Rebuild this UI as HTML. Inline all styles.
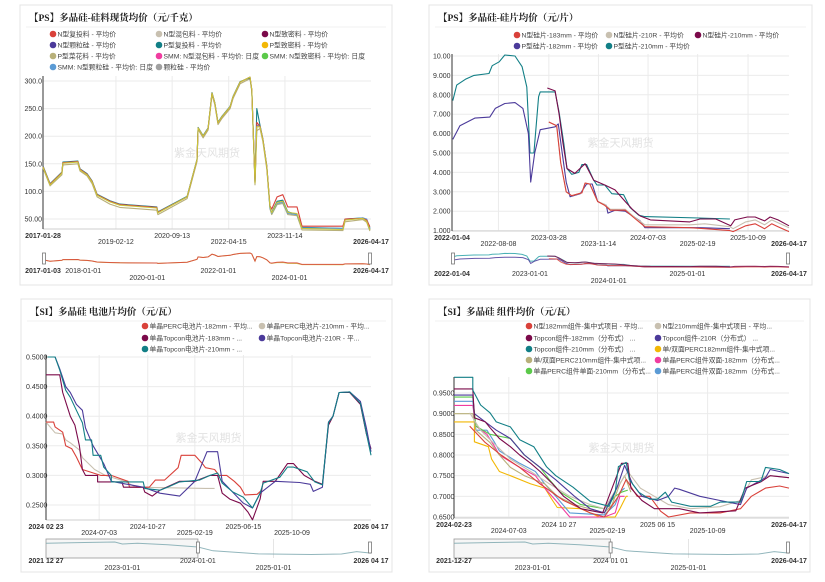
<!DOCTYPE html>
<html><head><meta charset="utf-8">
<style>
html,body{margin:0;padding:0;background:#fff;}
svg{display:block;font-family:"Liberation Sans","Noto Sans CJK SC",sans-serif;}
.t{font-family:"Liberation Serif","Noto Serif CJK SC",serif;font-weight:bold;font-size:9.5px;fill:#222;}
.tk{font-size:7px;fill:#333;}
.lg{font-size:6.8px;fill:#444;}
.wm{font-size:11px;fill:#e2e2e2;}
</style></head>
<body>
<svg id="root" width="825" height="582" viewBox="0 0 825 582" xmlns="http://www.w3.org/2000/svg"></svg>
<script>
// ---------- Panel 1: polysilicon raw material price (yuan/kg) ----------
const p1Dates=[2017.07,2017.27,2017.60,2017.63,2018.05,2018.11,2018.31,2018.45,2018.59,2018.95,2019.23,2020.27,2020.30,2021.12,2021.40,2021.43,2021.57,2021.71,2021.82,2021.90,2021.99,2022.10,2022.33,2022.41,2022.61,2022.89,2022.94,2023.03,2023.08,2023.17,2023.25,2023.36,2023.45,2023.50,2023.65,2023.81,2023.95,2024.21,2024.35,2025.50,2025.56,2026.06,2026.17,2026.26];
const p1Olive=[142,110,130,148,150,137,128,114,90,77,71,66,58,87,154,212,197,211,275,257,221,232,250,268,295,304,281,112,210,214,190,140,68,58,76,78,58,56,30,29,45,49,44,28];
const p1Teal=[146,114,135,153,155,141,132,119,95,83,77,72,63,91,158,216,201,215,279,261,225,236,254,272,299,306,283,118,250,220,195,146,70,62,82,84,63,58,35,33,50,52,48,33];
const p1Red=[145,113,134,152,154,140,131,118,94,82,76,71,62,90,157,215,200,214,278,260,224,235,253,271,298,307,284,116,225,218,194,145,74,68,90,94,72,72,37,37,50,51,48,36];
const p1Blue=[145,113,134,152,154,140,131,118,94,82,76,71,62,90,157,215,200,214,278,260,224,235,253,271,298,307,284,116,220,218,194,145,70,60,78,80,60,58,34,33,49,52,50,34];
const p1Yellow=[144,112,133,151,153,139,130,117,93,81,75,70,61,90,157,215,200,214,278,260,224,235,253,271,298,307,284,115,217,217,193,144,72,61,80,82,62,60,33,31,48,51,46,30];
const p1YTicks=[300,250,200,150,100,50];
const p1YLabels=["300.0","250.0","200.0","150.0","100.0","50.00"];
const p1XTicks=[2017.07,2019.12,2020.70,2022.29,2023.87,2026.29];
const p1XLabels=["2017-01-28","2019-02-12","2020-09-13","2022-04-15","2023-11-14","2026-04-17"];

// ---------- Panel 2: wafer price (yuan/pc) ----------
const p2TealDates=[2022.02,2022.07,2022.18,2022.29,2022.48,2022.52,2022.61,2022.68,2022.81,2022.90,2022.96,2023.00,2023.05,2023.11,2023.13,2023.32,2023.37,2023.43,2023.47,2023.53,2023.62,2023.66,2023.72,2023.81,2023.85,2023.95,2024.04,2024.19,2024.27,2024.38,2024.46,2025.15,2025.54];
const p2Teal=[7.7,8.5,8.8,9.0,9.1,9.5,9.7,10.05,10.0,9.45,8.4,5.0,5.0,7.9,8.15,8.15,7.1,5.5,4.2,3.9,4.0,4.4,4.4,3.6,3.35,3.35,2.9,2.85,2.2,1.8,1.72,1.65,1.6];
const p2PurpleDates=[2022.02,2022.11,2022.30,2022.49,2022.56,2022.68,2022.81,2022.91,2022.98,2023.01,2023.06,2023.13,2023.32,2023.36,2023.41,2023.46,2023.51,2023.64,2023.72,2023.79,2023.86,2023.97,2023.99,2024.08,2024.21,2024.40,2024.46,2025.16,2025.54];
const p2Purple=[5.7,6.4,6.8,6.85,7.3,7.55,7.6,7.3,6.0,3.5,5.0,6.2,6.35,6.5,5.0,3.5,2.75,2.9,3.4,3.4,2.5,2.3,1.9,2.05,2.0,1.5,1.15,1.15,1.1];
const p2MagDates=[2023.22,2023.32,2023.37,2023.42,2023.47,2023.57,2023.70,2023.81,2023.95,2024.08,2024.21,2024.30,2024.40,2024.53,2025.03,2025.16,2025.36,2025.55,2025.60,2025.76,2025.86,2025.98,2026.05,2026.15,2026.29];
const p2Mag=[8.35,8.2,7.0,5.5,4.2,3.95,4.45,3.6,3.35,3.1,2.5,2.1,1.75,1.55,1.45,1.6,1.6,1.25,1.55,1.7,1.7,1.5,1.7,1.55,1.25];
const p2RedDates=[2023.24,2023.34,2023.39,2023.46,2023.53,2023.66,2023.70,2023.76,2023.86,2023.95,2024.02,2024.21,2024.34,2024.46,2025.03,2025.22,2025.54,2025.58,2025.74,2025.86,2025.98,2026.07,2026.15,2026.29];
const p2Red=[6.6,6.4,4.5,3.0,2.8,2.95,3.45,3.4,2.5,2.3,2.05,2.05,1.6,1.2,1.15,1.1,1.0,0.95,1.25,1.35,1.1,1.35,1.2,0.95];
const p2Gray=[6.6,6.4,4.5,3.0,2.8,2.95,3.45,3.4,2.5,2.35,2.1,2.1,1.65,1.3,1.3,1.35,1.2,1.1,1.45,1.55,1.3,1.55,1.4,1.15];
const p2YTicks=[10,9,8,7,6,5,4,3,2,1];
const p2YLabels=["10.00","9.000","8.000","7.000","6.000","5.000","4.000","3.000","2.000","1.000"];
const p2XTicks=[2022.01,2022.60,2023.24,2023.87,2024.50,2025.13,2025.77,2026.29];
const p2XLabels=["2022-01-04","2022-08-08","2023-03-28","2023-11-14","2024-07-03","2025-02-19","2025-10-09","2026-04-17"];

// ---------- Panel 3: cell price (yuan/W) ----------
const p3TealDates=[2024.16,2024.21,2024.24,2024.28,2024.31,2024.35,2024.39,2024.41,2024.45,2024.46,2024.51,2024.53,2024.58,2024.58,2024.79,2024.80,2024.90,2024.95,2025.03,2025.16,2025.23,2025.28,2025.31,2025.38,2025.45,2025.51,2025.56,2025.58,2025.69,2025.74,2025.78,2025.87,2025.92,2025.97,2026.01,2026.04,2026.08,2026.15,2026.22,2026.26,2026.29];
const p3Teal=[0.5,0.5,0.478,0.444,0.432,0.41,0.389,0.36,0.36,0.334,0.334,0.314,0.30,0.289,0.289,0.278,0.275,0.28,0.289,0.292,0.30,0.304,0.287,0.272,0.263,0.245,0.27,0.287,0.297,0.314,0.314,0.306,0.289,0.284,0.389,0.40,0.44,0.441,0.422,0.371,0.334];
const p3PurpleDates=[2024.16,2024.21,2024.24,2024.28,2024.31,2024.35,2024.39,2024.41,2024.46,2024.53,2024.58,2024.79,2024.90,2025.03,2025.13,2025.21,2025.28,2025.31,2025.45,2025.51,2025.56,2025.66,2025.82,2025.89,2025.91,2025.97,2026.01,2026.04,2026.08,2026.15,2026.22,2026.26,2026.29];
const p3Purple=[0.5,0.5,0.48,0.45,0.44,0.42,0.41,0.38,0.35,0.32,0.29,0.28,0.27,0.265,0.29,0.34,0.34,0.29,0.253,0.245,0.27,0.29,0.288,0.285,0.273,0.28,0.39,0.40,0.44,0.441,0.425,0.38,0.34];
const p3MagDates=[2024.15,2024.24,2024.26,2024.31,2024.34,2024.37,2024.39,2024.41,2024.49,2024.49,2024.65,2024.66,2024.79,2024.80,2024.85,2024.90,2025.03,2025.13,2025.23,2025.28,2025.31,2025.36,2025.43,2025.48,2025.51,2025.56,2025.58,2025.66,2025.74,2025.78,2025.85,2025.92,2025.97,2026.01,2026.04,2026.08,2026.15,2026.22,2026.26,2026.29];
const p3Mag=[0.47,0.47,0.44,0.40,0.385,0.35,0.31,0.30,0.30,0.289,0.289,0.28,0.28,0.272,0.265,0.275,0.29,0.29,0.30,0.30,0.27,0.26,0.253,0.238,0.225,0.26,0.29,0.29,0.32,0.32,0.30,0.29,0.285,0.385,0.40,0.44,0.44,0.42,0.37,0.345];
const p3RedDates=[2024.15,2024.20,2024.21,2024.26,2024.28,2024.32,2024.35,2024.39,2024.51,2024.58,2024.69,2024.70,2024.83,2024.87,2024.93,2025.02,2025.04,2025.13,2025.18,2025.20,2025.26,2025.29,2025.34,2025.39,2025.43,2025.46,2025.54,2025.57];
const p3Red=[0.39,0.39,0.382,0.373,0.35,0.345,0.331,0.31,0.30,0.30,0.29,0.28,0.28,0.292,0.292,0.313,0.334,0.334,0.32,0.313,0.31,0.30,0.30,0.29,0.28,0.267,0.268,0.275];
const p3GrayDates=[2024.15,2024.21,2024.26,2024.28,2024.31,2024.37,2024.39,2024.47,2024.54,2024.67,2024.74,2025.20,2025.26];
const p3Gray=[0.39,0.372,0.37,0.36,0.355,0.343,0.33,0.31,0.30,0.29,0.28,0.278,0.278];
const p3YTicks=[0.5,0.45,0.4,0.35,0.3,0.25];
const p3YLabels=["0.5000","0.4500","0.4000","0.3500","0.3000","0.2500"];
const p3XTicks=[2024.15,2024.50,2024.82,2025.13,2025.45,2025.77,2026.29];
const p3XLabels=["2024 02 23","2024-07-03","2024-10-27","2025-02-19","2025-06-15","2025-10-09","2026 04 17"];
const p3NavDates=[2021.99,2022.5,2022.9,2023.0,2023.2,2023.6,2024.0,2024.2,2024.8,2025.5,2025.9,2026.1,2026.29];
const p3NavVals=[1.0,1.05,1.08,0.95,1.0,0.9,0.75,0.5,0.29,0.25,0.28,0.44,0.34];

// ---------- Panel 4: module price (yuan/W) ----------
const p4TealDates=[2024.15,2024.27,2024.27,2024.32,2024.38,2024.42,2024.51,2024.57,2024.66,2024.74,2024.80,2024.91,2025.02,2025.14,2025.18,2025.20,2025.25,2025.27,2025.33,2025.40,2025.45,2025.50,2025.54,2025.66,2025.79,2025.85,2025.98,2026.02,2026.11,2026.14,2026.23,2026.29];
const p4Teal=[0.988,0.988,0.957,0.921,0.902,0.88,0.868,0.837,0.82,0.772,0.75,0.722,0.688,0.676,0.71,0.772,0.782,0.741,0.71,0.693,0.693,0.71,0.686,0.676,0.676,0.686,0.686,0.736,0.736,0.77,0.765,0.755];
const p4MagDates=[2024.15,2024.27,2024.28,2024.35,2024.38,2024.44,2024.51,2024.57,2024.64,2024.70,2024.78,2024.85,2024.96,2025.10,2025.16,2025.22,2025.26,2025.28,2025.35,2025.43,2025.59,2025.72,2025.95,2026.01,2026.11,2026.17,2026.29];
const p4Mag=[0.96,0.96,0.89,0.88,0.866,0.84,0.82,0.80,0.78,0.76,0.73,0.70,0.67,0.66,0.72,0.78,0.78,0.72,0.69,0.67,0.67,0.66,0.665,0.72,0.735,0.75,0.745];
const p4PurpleDates=[2024.15,2024.27,2024.28,2024.35,2024.42,2024.51,2024.60,2024.70,2024.80,2024.92,2025.02,2025.11,2025.19,2025.24,2025.29,2025.35,2025.45,2025.52,2025.56,2025.59,2025.72,2025.85,2025.98,2026.02,2026.14,2026.17,2026.29];
const p4Purple=[0.945,0.945,0.90,0.88,0.86,0.84,0.80,0.77,0.74,0.70,0.67,0.66,0.72,0.775,0.73,0.70,0.69,0.70,0.72,0.717,0.70,0.69,0.68,0.72,0.745,0.765,0.755];
const p4RedDates=[2024.25,2024.35,2024.45,2024.57,2024.70,2024.85,2025.02,2025.11,2025.20,2025.25,2025.32,2025.40,2025.47,2025.52,2025.66,2025.85,2025.98,2026.05,2026.14,2026.23,2026.29];
const p4Red=[0.87,0.83,0.80,0.77,0.73,0.69,0.66,0.65,0.70,0.741,0.70,0.70,0.664,0.65,0.66,0.66,0.67,0.70,0.72,0.725,0.72];
const p4GrayDates=[2024.25,2024.32,2024.40,2024.51,2024.64,2024.76,2024.89,2025.02,2025.11,2025.19,2025.26,2025.34,2025.43,2025.52,2025.66,2025.85,2025.98,2026.05,2026.17,2026.29];
const p4Gray=[0.902,0.86,0.83,0.79,0.76,0.73,0.70,0.68,0.67,0.72,0.76,0.72,0.70,0.68,0.67,0.675,0.69,0.74,0.75,0.745];
const p4YellowDates=[2024.15,2024.28,2024.28,2024.37,2024.39,2024.44,2024.51,2024.64,2024.73,2024.78,2024.81,2024.96,2025.08,2025.18,2025.21,2025.25,2025.26];
const p4Yellow=[0.88,0.88,0.832,0.82,0.79,0.76,0.75,0.73,0.72,0.69,0.673,0.67,0.65,0.65,0.67,0.70,0.70];
const p4PinkDates=[2024.15,2024.27,2024.29,2024.36,2024.41,2024.44,2024.57,2024.67,2024.73,2024.80,2024.89,2025.11,2025.18,2025.21,2025.24];
const p4Pink=[0.92,0.92,0.87,0.85,0.82,0.80,0.77,0.75,0.72,0.69,0.65,0.65,0.66,0.70,0.70];
const p4LBlue=[0.93,0.93,0.86,0.86,0.83,0.81,0.78,0.76,0.73,0.70,0.66,0.655,0.68,0.71,0.72];
const p4GreenDates=[2024.15,2024.27,2024.29,2024.38,2024.51,2024.60,2024.70,2024.76,2024.83,2024.96,2025.11,2025.18,2025.22,2025.26];
const p4Green=[0.94,0.94,0.87,0.85,0.84,0.80,0.77,0.74,0.71,0.68,0.67,0.70,0.71,0.715];
const p4OliveDates=[2024.15,2024.27,2024.29,2024.38,2024.44,2024.51,2024.60,2024.73,2024.81,2024.92,2025.11,2025.16,2025.21,2025.24,2025.28];
const p4Olive=[0.90,0.90,0.86,0.83,0.80,0.77,0.75,0.73,0.70,0.68,0.66,0.68,0.73,0.75,0.71];
const p4YTicks=[0.95,0.9,0.85,0.8,0.75,0.7,0.65];
const p4YLabels=["0.9500","0.9000","0.8500","0.8000","0.7500","0.7000","0.6500"];
const p4XTicks=[2024.15,2024.50,2024.82,2025.13,2025.45,2025.77,2026.29];
const p4XLabels=["2024-02-23","2024-07-03","2024 10 27","2025-02-19","2025 06 15","2025-10-09","2026-04-17"];

const NS="http://www.w3.org/2000/svg";
const root=document.getElementById('root');
function el(tag,attrs,parent,text){const e=document.createElementNS(NS,tag);for(const k in attrs)e.setAttribute(k,attrs[k]);if(text!==undefined)e.textContent=text;(parent||root).appendChild(e);return e;}
function mkX(t0,t1,x0,x1){return t=>x0+(t-t0)/(t1-t0)*(x1-x0);}
function mkY(v0,v1,y0,y1){return v=>y0+(v-v0)/(v1-v0)*(y1-y0);}
function pathD(ds,vs,X,Y){let d='';for(let i=0;i<ds.length;i++){d+=(i?'L':'M')+X(ds[i]).toFixed(1)+','+Y(vs[i]).toFixed(1);}return d;}

function panel(cfg){
  const g=el('g',{});
  
  
  const fr=el('rect',{x:cfg.box[0],y:cfg.box[1],width:cfg.box[2],height:cfg.box[3],fill:'#fff',stroke:'#e4e4e4','stroke-width':1},g);
  
  
  const sep=el('line',{x1:cfg.box[0]+6,x2:cfg.box[0]+cfg.box[2]-6,y1:cfg.box[1]+22,y2:cfg.box[1]+22,stroke:'#f0f0f0'},g);
  
  
  const tt=el('text',{x:cfg.box[0]+9,y:cfg.box[1]+16,class:'t'},g,cfg.title);
  
  
  // legend
  cfg.legend.forEach(l=>{
    const lg=el('g',{},g);
    
    
    el('circle',{cx:l[0],cy:l[1],r:3.3,fill:l[2]},lg);
    el('text',{x:l[0]+4.5,y:l[1]+2.5,class:'lg'},lg,l[3]);
  });
  const X=mkX(cfg.t0,cfg.t1,cfg.px0,cfg.px1);
  const Y=mkY(cfg.v0,cfg.v1,cfg.py0,cfg.py1);
  // horizontal grid + y labels
  cfg.yTicks.forEach((v,i)=>{
    const ln=el('line',{x1:cfg.px0,x2:cfg.px1,y1:Y(v),y2:Y(v),stroke:'#ebebeb'},g);
    
    
    const tx=el('text',{x:cfg.ylx,y:Y(v)+2.5,class:'tk','text-anchor':cfg.yAnchor},g,cfg.yLabels[i]);
    
    
  });
  cfg.xTicks.forEach((t,i)=>{
    if(i>0&&i<cfg.xTicks.length-1){
      const ln=el('line',{x1:X(t),x2:X(t),y1:cfg.gridTop,y2:cfg.axisY,stroke:'#ebebeb'},g);
      
      
    }
    const edge=(i===0||i===cfg.xTicks.length-1);
    const tx=el('text',{x:X(t),y:cfg.axisY+(i%2?15:9),class:'tk','text-anchor':'middle','font-weight':edge?'bold':'normal'},g,cfg.xLabels[i]);
    
    
  });
  const wm=el('text',{x:(cfg.px0+cfg.px1)/2,y:(cfg.gridTop+cfg.axisY)/2+4,class:'wm','text-anchor':'middle'},g,'紫金天风期货');
  
  
  const ax=el('line',{x1:cfg.px0,x2:cfg.px1,y1:cfg.axisY,y2:cfg.axisY,stroke:'#cfcfcf'},g);
  
  
  const ay=el('line',{x1:cfg.px0,x2:cfg.px0,y1:cfg.gridTop,y2:cfg.axisY,stroke:'#333','stroke-width':1},g);
  
  
  cfg.series.forEach(s=>{
    const p=el('path',{d:pathD(s.d,s.v,X,Y),fill:'none',stroke:s.c,'stroke-width':1.1,'stroke-linejoin':'round'},g);
    
    
  });
  // navigator
  const nv=cfg.nav;
  const ng=el('g',{},g);
  
  
  const NX=mkX(nv.t0,nv.t1,cfg.px0,cfg.px1);
  const NY=mkY(nv.v0,nv.v1,nv.y1,nv.y0);
  if(nv.selT!==undefined){
    const sr=el('rect',{x:cfg.px0,y:nv.y0-2,width:NX(nv.selT)-cfg.px0,height:nv.y1-nv.y0+4,fill:'#f6f6f6',stroke:'#999','stroke-width':0.8},ng);
    
    
    const vl=el('line',{x1:NX(2025.0),x2:NX(2025.0),y1:nv.y0-2,y2:nv.y1+2,stroke:'#e5e5e5'},ng);
  }
  nv.lines.forEach(s=>{
    const p=el('path',{d:pathD(s.d,s.v,NX,NY),fill:'none',stroke:s.c,'stroke-width':1,opacity:0.85},ng);
    
    
  });
  const hs=[nv.selT!==undefined?NX(nv.selT):cfg.px0+1,cfg.px1-1];
  hs.forEach(hx=>{
    const h=el('rect',{x:hx-1.5,y:nv.y0+1,width:3,height:11,fill:'#fff',stroke:'#777','stroke-width':0.8},ng);
    
    
  });
  nv.labels.forEach(l=>{
    const tx=el('text',{x:NX(l[0]),y:l[2],class:'tk','text-anchor':'middle','font-weight':l[3]?'bold':'normal'},ng,l[1]);
    
    
  });
}

panel({name:'silicon-material-price-chart',box:[20,5,372,280],title:'【PS】多晶硅-硅料现货均价（元/千克）',
  legend:[[53,34,'#d9413a','N型复投料 - 平均价'],[159,34,'#c8c0b0','N型混包料 - 平均价'],[265,34,'#7b0a4a','N型致密料 - 平均价'],
          [53,45,'#4b3a9a','N型颗粒硅 - 平均价'],[159,45,'#127f86','P型复投料 - 平均价'],[265,45,'#f2b705','P型致密料 - 平均价'],
          [53,56,'#b8b07a','P型菜花料 - 平均价'],[159,56,'#f03ca0','SMM: N型混包料 - 平均价: 日度'],[265,56,'#5bc94a','SMM: N型致密料 - 平均价: 日度'],
          [53,67,'#5b9bd5','SMM: N型颗粒硅 - 平均价: 日度'],[159,67,'#a0a0a0','颗粒硅 - 平均价']],
  t0:2017.07,t1:2026.29,px0:43,px1:371,v0:300,v1:50,py0:81,py1:219,gridTop:76,axisY:229,
  yTicks:p1YTicks,yLabels:p1YLabels,ylx:42,yAnchor:'end',xTicks:p1XTicks,xLabels:p1XLabels,
  series:[{n:'series-p-dense',d:p1Dates,v:p1Olive,c:'#b8b07a'},{n:'series-p-recharge',d:p1Dates,v:p1Teal,c:'#127f86'},
          {n:'series-n-granular',d:p1Dates,v:p1Blue,c:'#5b9bd5'},{n:'series-n-recharge',d:p1Dates,v:p1Red,c:'#d9413a'},
          {n:'series-p-dense-yellow',d:p1Dates,v:p1Yellow,c:'#c9c43a'}],
  nav:{t0:2017.07,t1:2026.29,v0:0,v1:330,y0:252,y1:266,
    lines:[{d:p1Dates,v:p1Yellow,c:'#c9c43a'},{d:p1Dates,v:p1Red,c:'#d9413a'}],
    labels:[[2017.07,'2017-01-03',273,1],[2018.2,'2018-01-01',273,0],[2020.0,'2020-01-01',280,0],[2022.0,'2022-01-01',273,0],[2024.0,'2024-01-01',280,0],[2026.29,'2026-04-17',273,1]]}
});

panel({name:'wafer-price-chart',box:[429,5,383,280],title:'【PS】多晶硅-硅片均价（元/片）',
  legend:[[517,35,'#d9413a','N型硅片-183mm - 平均价'],[609,35,'#c8c0b0','N型硅片-210R - 平均价'],[698,35,'#7b0a4a','N型硅片-210mm - 平均价'],
          [517,46,'#4b3a9a','P型硅片-182mm - 平均价'],[609,46,'#127f86','P型硅片-210mm - 平均价']],
  t0:2022.01,t1:2026.29,px0:452,px1:789,v0:10,v1:1,py0:56,py1:230.6,gridTop:54,axisY:231,
  yTicks:p2YTicks,yLabels:p2YLabels,ylx:433,yAnchor:'start',xTicks:p2XTicks,xLabels:p2XLabels,
  series:[{n:'series-p-210mm',d:p2TealDates,v:p2Teal,c:'#127f86'},{n:'series-p-182mm',d:p2PurpleDates,v:p2Purple,c:'#4b3a9a'},
          {n:'series-n-210r',d:p2RedDates,v:p2Gray,c:'#c8c0b0'},{n:'series-n-183mm',d:p2RedDates,v:p2Red,c:'#d9413a'},
          {n:'series-n-210mm',d:p2MagDates,v:p2Mag,c:'#7b0a4a'}],
  nav:{t0:2022.01,t1:2026.29,v0:0.5,v1:11,y0:252,y1:268,
    lines:[{d:p2TealDates,v:p2Teal,c:'#2aa3a8'},{d:p2PurpleDates,v:p2Purple,c:'#4b3a9a'},{d:p2RedDates,v:p2Red,c:'#d9413a'},{d:p2MagDates,v:p2Mag,c:'#7b0a4a'}],
    labels:[[2022.01,'2022-01-04',276,1],[2023.0,'2023-01-01',276,0],[2024.0,'2024-01-01',283,0],[2025.0,'2025-01-01',276,0],[2026.29,'2026-04-17',276,1]]}
});

panel({name:'cell-price-chart',box:[21,299,371,273],title:'【SI】多晶硅 电池片均价（元/瓦）',
  legend:[[145,326,'#d9413a','单晶PERC电池片-182mm - 平均...'],[262,326,'#c8c0b0','单晶PERC电池片-210mm - 平均...'],
          [145,338,'#7b0a4a','单晶Topcon电池片-183mm - ...'],[262,338,'#4b3a9a','单晶Topcon电池片-210R - 平...'],
          [145,349,'#127f86','单晶Topcon电池片-210mm - ...']],
  t0:2024.15,t1:2026.29,px0:46,px1:371,v0:0.5,v1:0.25,py0:357,py1:505,gridTop:355,axisY:520,
  yTicks:p3YTicks,yLabels:p3YLabels,ylx:26,yAnchor:'start',xTicks:p3XTicks,xLabels:p3XLabels,
  series:[{n:'series-perc-210mm',d:p3GrayDates,v:p3Gray,c:'#c8c0b0'},{n:'series-perc-182mm',d:p3RedDates,v:p3Red,c:'#d9413a'},
          {n:'series-topcon-183mm',d:p3MagDates,v:p3Mag,c:'#7b0a4a'},{n:'series-topcon-210r',d:p3PurpleDates,v:p3Purple,c:'#4b3a9a'},
          {n:'series-topcon-210mm',d:p3TealDates,v:p3Teal,c:'#127f86'}],
  nav:{t0:2021.99,t1:2026.29,v0:0.15,v1:1.15,y0:541,y1:556,selT:2024.0,
    lines:[{d:p3NavDates,v:p3NavVals,c:'#7fa9b0'}],
    labels:[[2021.99,'2021 12 27',563,1],[2023.0,'2023-01-01',570,0],[2024.0,'2024-01-01',563,0],[2025.0,'2025-01-01',570,0],[2026.29,'2026 04 17',563,1]]}
});

panel({name:'module-price-chart',box:[429,299,381,273],title:'【SI】多晶硅 组件均价（元/瓦）',
  legend:[[529,326,'#d9413a','N型182mm组件-集中式项目 - 平均...'],[658,326,'#c8c0b0','N型210mm组件-集中式项目 - 平均...'],
          [529,338,'#7b0a4a','Topcon组件-182mm（分布式） ...'],[658,338,'#4b3a9a','Topcon组件-210R（分布式） ...'],
          [529,349,'#127f86','Topcon组件-210mm（分布式） ...'],[658,349,'#f2b705','单/双面PERC182mm组件-集中式项...'],
          [529,360,'#b8b07a','单/双面PERC210mm组件-集中式项...'],[658,360,'#f03ca0','单晶PERC组件双面-182mm（分布式...'],
          [529,371,'#5bc94a','单晶PERC组件单面-210mm（分布式...'],[658,371,'#5b9bd5','单晶PERC组件双面-182mm（分布式...']],
  t0:2024.15,t1:2026.29,px0:454,px1:789,v0:0.95,v1:0.65,py0:393,py1:517,gridTop:377,axisY:518,
  yTicks:p4YTicks,yLabels:p4YLabels,ylx:433,yAnchor:'start',xTicks:p4XTicks,xLabels:p4XLabels,
  series:[{n:'series-perc182-central',d:p4YellowDates,v:p4Yellow,c:'#f2b705'},{n:'series-perc182-bifacial-pink',d:p4PinkDates,v:p4Pink,c:'#f03ca0'},
          {n:'series-perc182-bifacial-blue',d:p4PinkDates,v:p4LBlue,c:'#5b9bd5'},{n:'series-perc210-mono',d:p4GreenDates,v:p4Green,c:'#5bc94a'},
          {n:'series-perc210-central',d:p4OliveDates,v:p4Olive,c:'#b8b07a'},{n:'series-n210-central',d:p4GrayDates,v:p4Gray,c:'#c8c0b0'},
          {n:'series-n182-central',d:p4RedDates,v:p4Red,c:'#d9413a'},{n:'series-topcon-210r',d:p4PurpleDates,v:p4Purple,c:'#4b3a9a'},
          {n:'series-topcon-182mm',d:p4MagDates,v:p4Mag,c:'#7b0a4a'},{n:'series-topcon-210mm',d:p4TealDates,v:p4Teal,c:'#127f86'}],
  nav:{t0:2021.99,t1:2026.29,v0:0.15,v1:1.15,y0:541,y1:556,selT:2024.0,
    lines:[{d:p3NavDates,v:p3NavVals,c:'#7fa9b0'}],
    labels:[[2021.99,'2021-12-27',563,1],[2023.0,'2023-01-01',570,0],[2024.0,'2024 01 01',563,0],[2025.0,'2025-01-01',570,0],[2026.29,'2026-04-17',563,1]]}
});
</script>
</body></html>
